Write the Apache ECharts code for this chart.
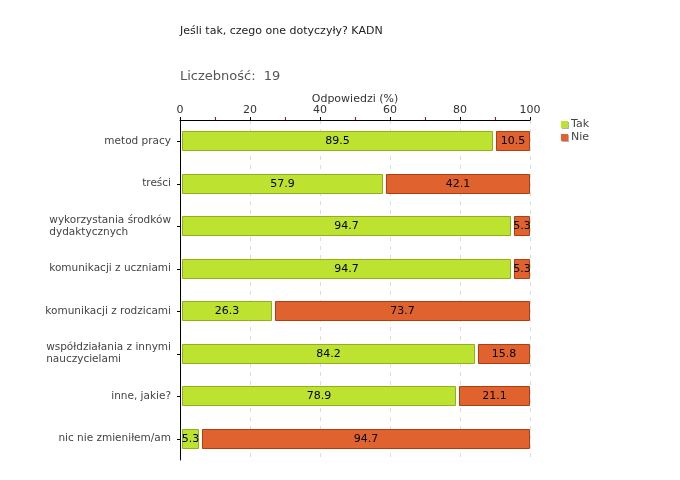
<!DOCTYPE html>
<html><head><meta charset="utf-8">
<script src="https://cdn.jsdelivr.net/npm/echarts@6/dist/echarts.min.js"></script>
<style>html,body{margin:0;padding:0;background:#fff}#c{width:680px;height:480px}</style>
</head><body><div id="c"></div>
<script>
var categories = ['metod pracy','treści','wykorzystania środków\ndydaktycznych','komunikacji z uczniami','komunikacji z rodzicami','współdziałania z innymi\nnauczycielami','inne, jakie?','nic nie zmieniłem/am'];
var takValues = [89.5,57.9,94.7,94.7,26.3,84.2,78.9,5.3];
var nieValues = [10.5,42.1,5.3,5.3,73.7,15.8,21.1,94.7];
var xTicks = [0,20,40,60,80,100];
var titleText = 'Jeśli tak, czego one dotyczyły? KADN';
var countText = 'Liczebność:  19';

var FONT = 'DejaVu Sans';
var takData = categories.map(function(c,i){ return [i, 0, takValues[i], takValues[i]]; });
var nieData = categories.map(function(c,i){ return [i, takValues[i], takValues[i]+nieValues[i], nieValues[i]]; });

function makeRender(fill, stroke, gapStart){
  return function(params, api){
    var cat = api.value(0);
    var p0 = api.coord([api.value(1), cat]);
    var p1 = api.coord([api.value(2), cat]);
    var x0 = Math.round(p0[0]) + gapStart;
    var x1 = Math.round(p1[0]);
    var cy = Math.round(p0[1]);
    var h = 19;
    return {
      type:'group',
      children:[
        {type:'rect', shape:{x:x0+0.5, y:cy-9.5, width:x1-x0-1, height:h},
         style:{fill:fill, stroke:stroke, lineWidth:1}},
        {type:'text', style:{text:String(api.value(3)), x:(x0+x1)/2, y:cy+0.5,
          align:'center', verticalAlign:'middle', fill:'#000', font:'11px "'+FONT+'"'}}
      ]
    };
  };
}

var chart = echarts.init(document.getElementById('c'), null, {renderer:'canvas'});
chart.setOption({
  animation:false,
  backgroundColor:'#fff',
  textStyle:{fontFamily:FONT},
  title:[
    {text:titleText, left:180, top:26, padding:0, textStyle:{fontSize:11, fontWeight:'normal', color:'#222', fontFamily:FONT}},
    {text:countText, left:180, top:70, padding:0, textStyle:{fontSize:13, fontWeight:'normal', color:'#555', fontFamily:FONT}}
  ],
  legend:{
    orient:'vertical', left:556, top:114, icon:'rect', itemWidth:7, itemHeight:7, itemGap:2,
    textStyle:{fontSize:11, color:'#444', fontFamily:FONT, padding:[0,0,0,-2]},
    itemStyle:{shadowColor:'rgba(0,0,0,0.3)', shadowOffsetX:1, shadowOffsetY:1, shadowBlur:0},
    data:['Tak','Nie']
  },
  grid:{left:180, right:150, top:120, bottom:20, containLabel:false},
  xAxis:{
    type:'value', position:'top', min:0, max:100, interval:20,
    name:'Odpowiedzi (%)', nameLocation:'middle', nameGap:15, nameMoveOverlap:false,
    nameTextStyle:{fontSize:11, color:'#333', fontFamily:FONT},
    axisLine:{show:true, lineStyle:{color:'#000', width:1}},
    axisTick:{show:true, length:3, lineStyle:{color:'#000'}},
    minorTick:{show:true, splitNumber:2, length:3, lineStyle:{color:'#e00000'}},
    axisLabel:{fontSize:11, color:'#333', margin:4, fontFamily:FONT},
    splitLine:{show:true, lineStyle:{color:'#dcdcdc', type:[4,5], width:1}}
  },
  yAxis:{
    type:'category', inverse:true, data:categories,
    axisLine:{show:true, lineStyle:{color:'#000', width:1}},
    axisTick:{show:true, alignWithLabel:true, length:3, lineStyle:{color:'#000'}},
    axisLabel:{fontSize:10.5, color:'#444', margin:9, fontFamily:FONT, lineHeight:12,
      formatter:function(v){ return v.split('\n').map(function(s){return '{a|'+s+'}';}).join('\n'); },
      rich:{a:{align:'left', fontSize:10.5, color:'#444', fontFamily:FONT, lineHeight:12}}
    },
    splitLine:{show:false}
  },
  series:[
    {name:'Tak', type:'custom', data:takData, encode:{x:[1,2], y:0},
     itemStyle:{color:'#bde22f'}, renderItem:makeRender('#bde22f','#8fb21a',2), z:3},
    {name:'Nie', type:'custom', data:nieData, encode:{x:[1,2], y:0},
     itemStyle:{color:'#e0632f'}, renderItem:makeRender('#e0632f','#b43d10',3), z:3}
  ]
});
</script></body></html>
